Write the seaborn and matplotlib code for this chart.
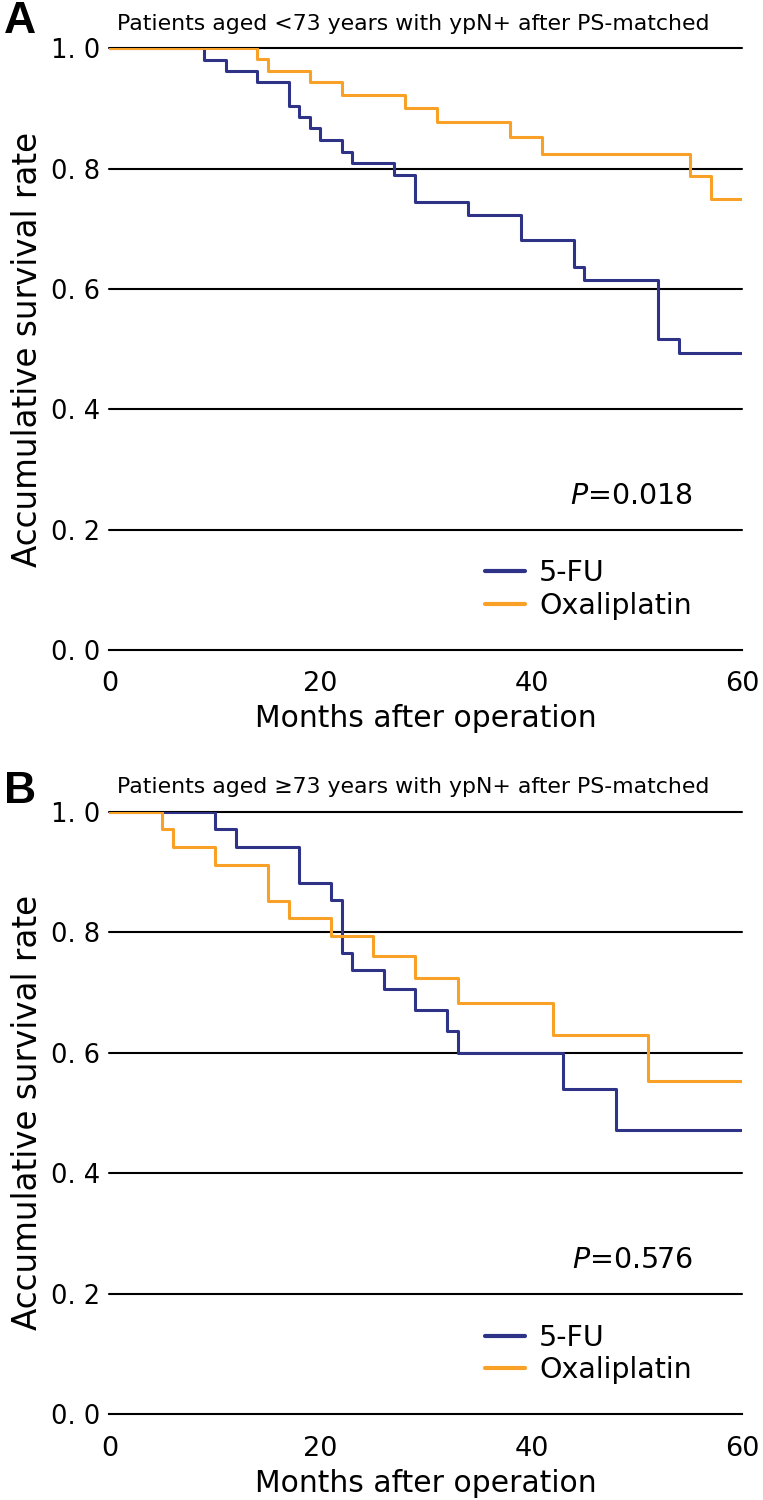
import matplotlib
matplotlib.use("Agg")
import matplotlib.pyplot as plt
import seaborn as sns
import pandas as pd

# survival curves (months, cumulative survival)
a_fu_time = [0, 9, 11, 14, 17, 18, 19, 20, 22, 23, 27, 29, 34, 39, 44, 45, 52, 54, 60]
a_fu_surv = [1.0, 0.980, 0.962, 0.944, 0.904, 0.886, 0.867, 0.848, 0.828, 0.809,
             0.789, 0.745, 0.723, 0.681, 0.637, 0.615, 0.516, 0.493, 0.493]
a_ox_time = [0, 14, 15, 19, 22, 28, 31, 38, 41, 55, 57, 60]
a_ox_surv = [1.0, 0.982, 0.963, 0.944, 0.922, 0.901, 0.877, 0.852, 0.824, 0.788, 0.749, 0.749]

b_fu_time = [0, 10, 12, 18, 21, 22, 23, 26, 29, 32, 33, 43, 48, 60]
b_fu_surv = [1.0, 0.971, 0.941, 0.882, 0.853, 0.765, 0.737, 0.705, 0.670, 0.635,
             0.600, 0.539, 0.471, 0.471]
b_ox_time = [0, 5, 6, 10, 15, 17, 21, 25, 29, 33, 42, 51, 60]
b_ox_surv = [1.0, 0.971, 0.941, 0.912, 0.852, 0.823, 0.793, 0.760, 0.723, 0.682,
             0.629, 0.552, 0.552]

groups = ["5-FU", "Oxaliplatin"]
colors = {"5-FU": "#2e3388", "Oxaliplatin": "#f9a126"}
titles = ["Patients aged <73 years with ypN+ after PS-matched",
          "Patients aged \u226573 years with ypN+ after PS-matched"]
p_values = ["0.018", "0.576"]
panel_letters = ["A", "B"]
y_ticks = [0.0, 0.2, 0.4, 0.6, 0.8, 1.0]
x_ticks = [0, 20, 40, 60]


def make_df(fu_t, fu_s, ox_t, ox_s):
    rows = [{"month": t, "surv": s, "group": "5-FU"} for t, s in zip(fu_t, fu_s)]
    rows += [{"month": t, "surv": s, "group": "Oxaliplatin"} for t, s in zip(ox_t, ox_s)]
    return pd.DataFrame(rows)


panels = [make_df(a_fu_time, a_fu_surv, a_ox_time, a_ox_surv),
          make_df(b_fu_time, b_fu_surv, b_ox_time, b_ox_surv)]

sns.set_theme(style="white")
plt.rcParams["font.family"] = ["DejaVu Sans"]
plt.rcParams["mathtext.fontset"] = "dejavusans"
for key in ["text.color", "axes.labelcolor", "xtick.color", "ytick.color"]:
    plt.rcParams[key] = "black"

fig = plt.figure(figsize=(7.63, 15), dpi=100)
positions = [[0.1435, 0.5668, 0.8296, 0.401], [0.1435, 0.0573, 0.8296, 0.4017]]
letter_base = [1 - 33 / 1500, 1 - 803 / 1500]

for i, df in enumerate(panels):
    ax = fig.add_axes(positions[i])
    sns.lineplot(data=df, x="month", y="surv", hue="group", hue_order=groups,
                 palette=colors, drawstyle="steps-post", linewidth=2.2,
                 estimator=None, ax=ax, zorder=3)
    ax.set_xlim(0, 60)
    ax.set_ylim(0, 1.0)
    for yv in y_ticks[1:]:
        ax.axhline(yv, color="black", linewidth=1.5, zorder=1, clip_on=False)
    for side in ["top", "right", "left"]:
        ax.spines[side].set_visible(False)
    ax.spines["bottom"].set_color("black")
    ax.spines["bottom"].set_linewidth(1.5)
    ax.set_xticks(x_ticks)
    ax.set_xticklabels([str(v) for v in x_ticks], fontsize=19.5)
    ax.set_yticks(y_ticks)
    ax.set_yticklabels([f"{v:.1f}".replace(".", ". ") for v in y_ticks], fontsize=18.5)
    ax.tick_params(axis="x", direction="out", length=10.5, width=1.5, color="black", pad=5)
    ax.tick_params(axis="y", length=0, pad=7)
    ax.set_xlabel("Months after operation", fontsize=21.4, labelpad=5)
    ax.set_ylabel("Accumulative survival rate", fontsize=23.5, va="center")
    ax.yaxis.set_label_coords(-0.13, 0.5)
    ax.text(0.012, 1.04, titles[i], transform=ax.transAxes, fontsize=15.8,
            va="center", ha="left")
    ax.text(0.922, 0.256, "$P$=" + p_values[i], transform=ax.transAxes,
            fontsize=20.5, va="center", ha="right")
    leg = ax.legend(loc="center left", bbox_to_anchor=(0.593, 0.100), frameon=False,
                    fontsize=20.5, handlelength=1.4, handletextpad=0.5,
                    labelspacing=0.16, borderpad=0, borderaxespad=0)
    for line in leg.get_lines():
        line.set_linewidth(3)
    fig.text(0.005, letter_base[i], panel_letters[i], fontsize=32, fontweight="bold",
             family="Liberation Sans", va="baseline", ha="left")

fig.savefig("out.png", dpi=100)
